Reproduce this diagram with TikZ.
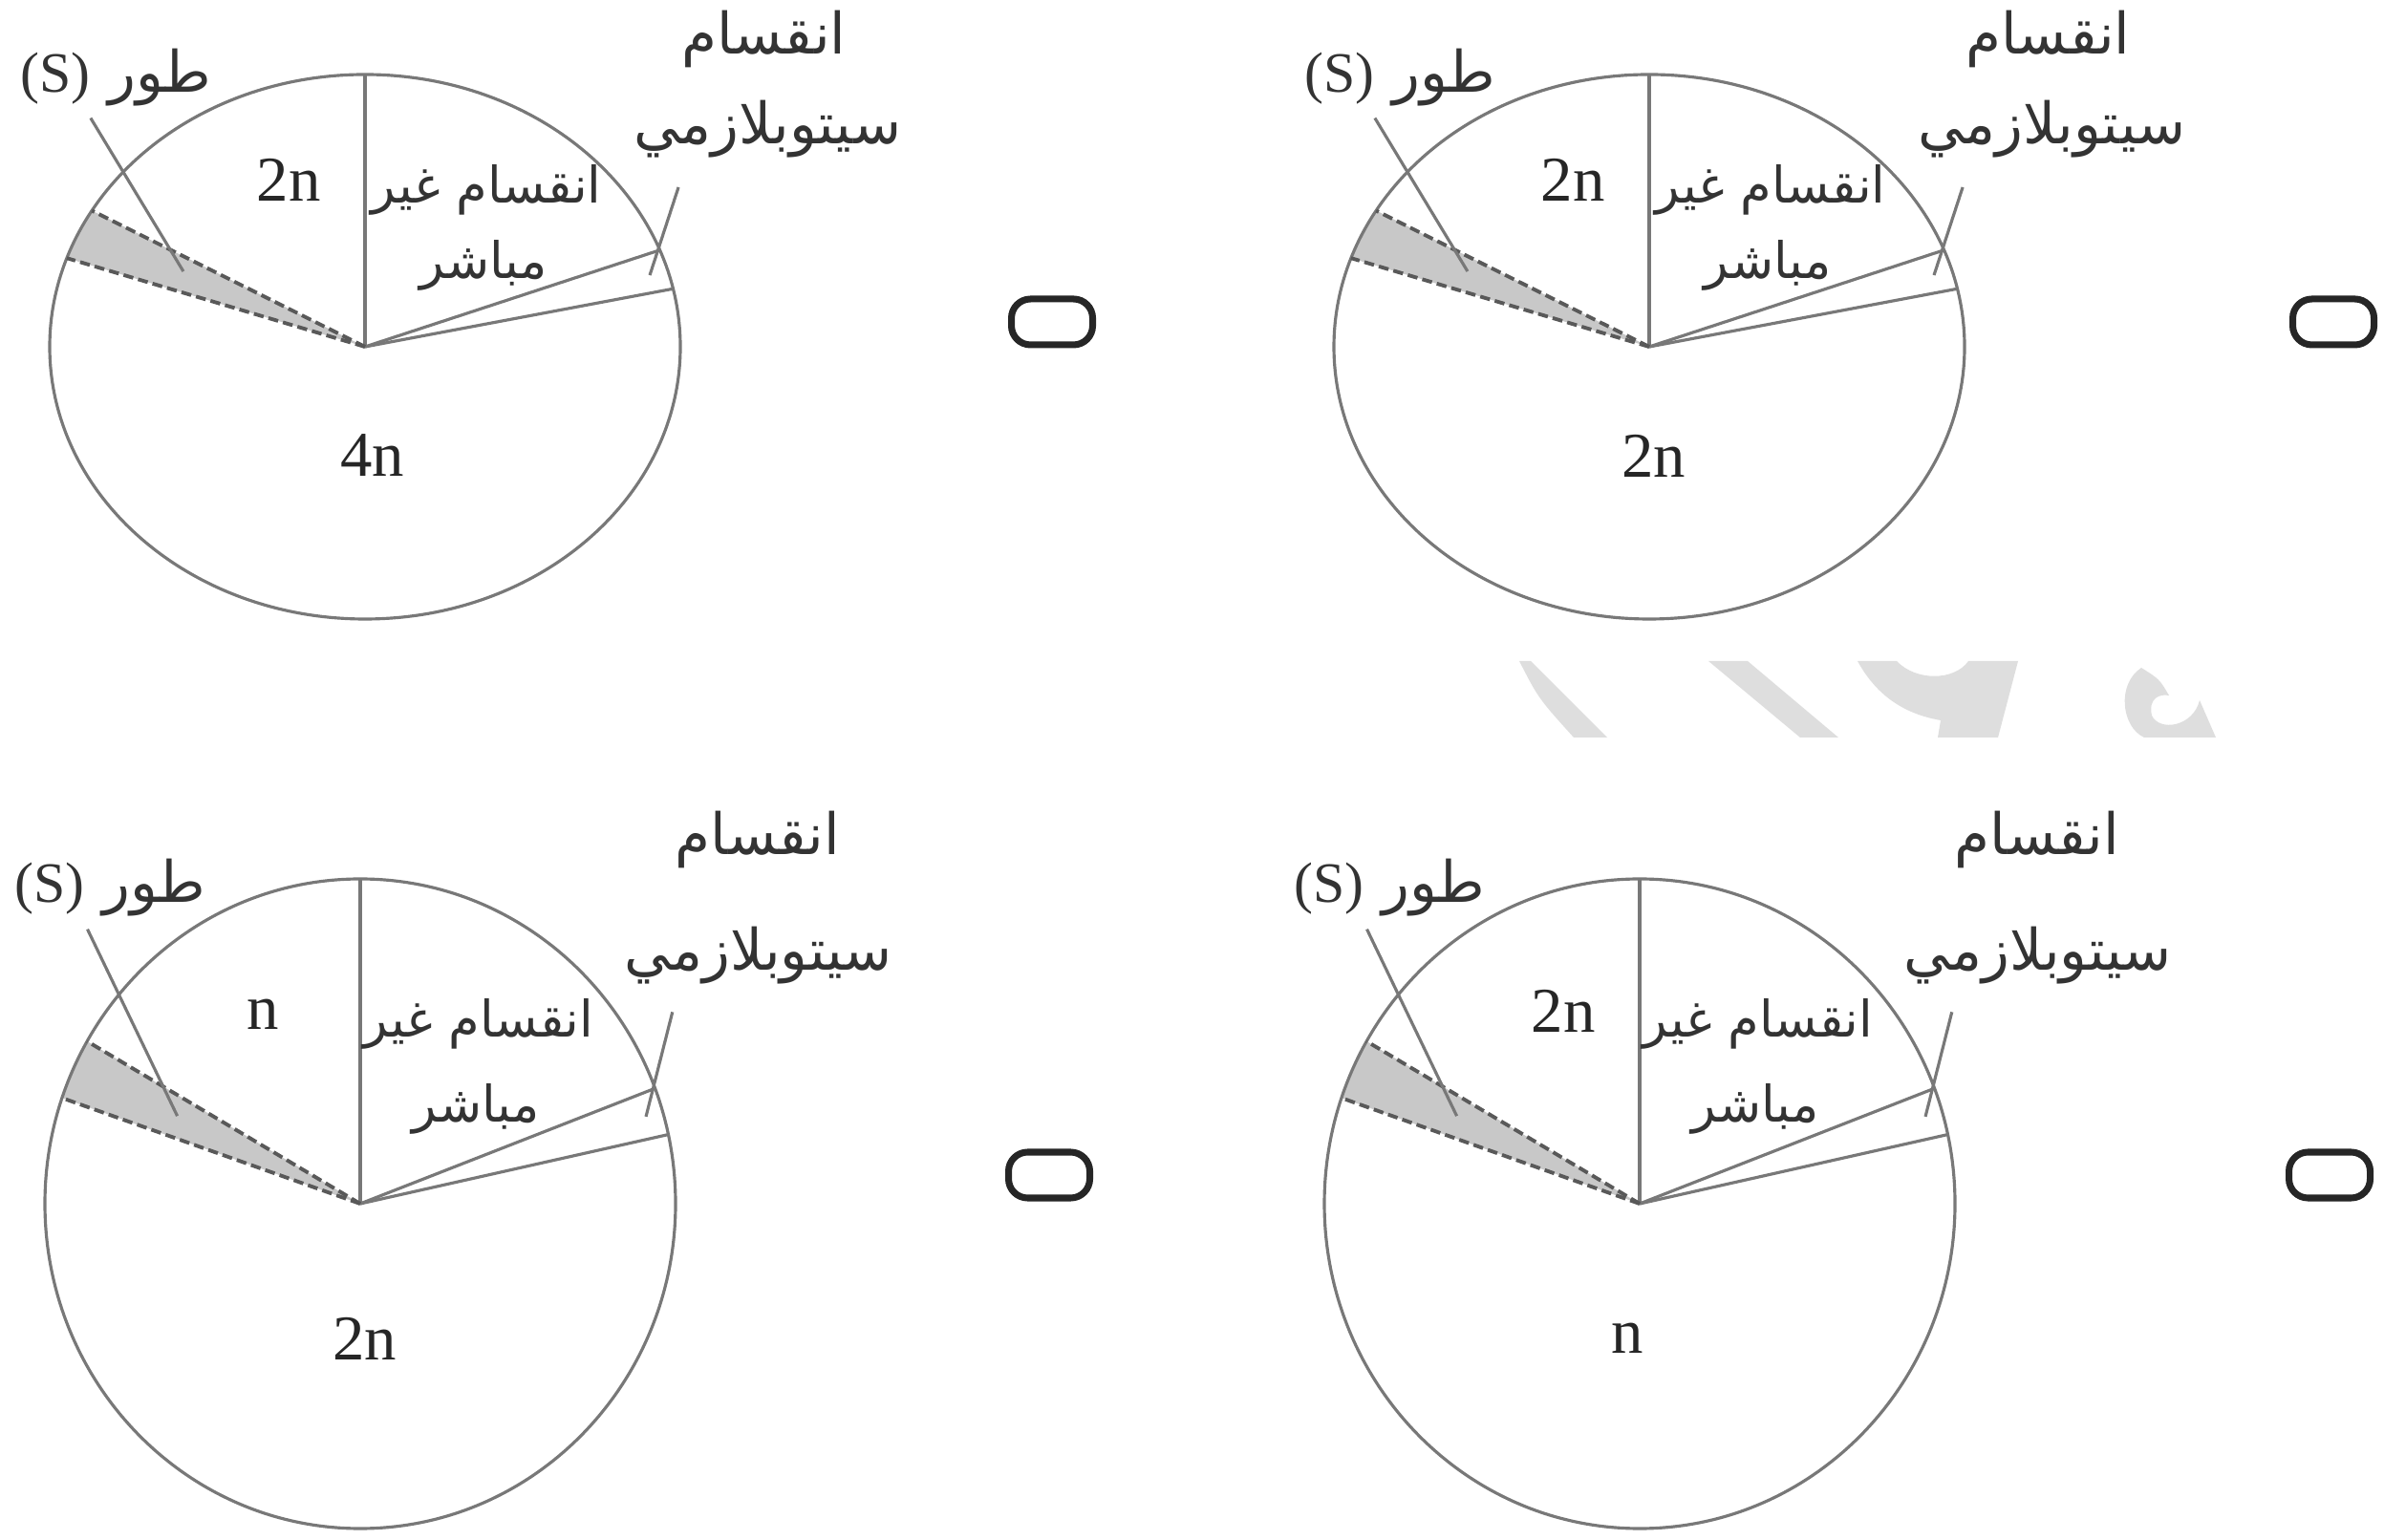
\documentclass[tikz,border=0pt]{standalone}
\usepackage{fontspec}
\setmainfont{Liberation Serif}
\newfontfamily\arabicfont[Script=Arabic]{DejaVu Sans}
\TeXXeTstate=1
\definecolor{pieGray}{RGB}{120,120,120}
\definecolor{wedgeGray}{RGB}{200,200,200}
\definecolor{markGray}{RGB}{222,222,222}
\tikzset{
  pieLine/.style={draw=pieGray, line width=0.9pt},
  sEdge/.style={draw=black!65, line width=1.1pt, dash pattern=on 3pt off 1.5pt},
  pointer/.style={draw=pieGray, line width=0.9pt},
  arSmall/.style={text=black!80, inner sep=0pt, font=\arabicfont\fontsize{15}{18}\selectfont},
  arBig/.style={text=black!80, inner sep=0pt, font=\arabicfont\fontsize{17}{20}\selectfont},
  numLabel/.style={text=black!85, inner sep=0pt, font=\fontsize{19}{22}\selectfont},
  tickBox/.style={draw=black!85, line width=2pt, rounded corners=0.2cm, minimum width=0.85cm, minimum height=0.48cm}
}
\begin{document}
\begin{tikzpicture}
	\useasboundingbox (0,0) rectangle (24.95,16.11);

	% pie 1 (top left)
	\begin{scope}[shift={(3.82,12.48)}, xscale=3.3, yscale=2.85]
		\coordinate (pie1Centre) at (0,0);
		\coordinate (pie1Top) at (90:1);
		\coordinate (pie1CytoA) at (20.8:1);
		\coordinate (pie1CytoB) at (12.3:1);
		\coordinate (pie1SA) at (150:1);
		\coordinate (pie1SB) at (161:1);
		\coordinate (pie1STail) at (-0.87,0.84);
		\coordinate (pie1STip) at (-0.576,0.277);
		\coordinate (pie1CytoTail) at (0.994,0.586);
		\coordinate (pie1CytoTip) at (0.903,0.263);
		\fill[wedgeGray] (pie1Centre) -- (pie1SA) arc (150:161:1) -- cycle;
		\draw[pieLine] (pie1Centre) ellipse (1 and 1);
		\draw[pieLine] (pie1Centre) -- (pie1Top);
		\draw[pieLine] (pie1Centre) -- (pie1CytoA);
		\draw[pieLine] (pie1Centre) -- (pie1CytoB);
		\draw[sEdge] (pie1Centre) -- (pie1SA);
		\draw[sEdge] (pie1Centre) -- (pie1SB);
		\draw[pointer] (pie1STail) -- (pie1STip);
		\draw[pointer] (pie1CytoTail) -- (pie1CytoTip);
		\node[arBig](pie1SLabel) at (-0.79,0.99){\arabicfont\beginR طور \beginL{\rmfamily (S)}\endL\endR};
		\node[arBig](pie1CytoTop) at (1.265,1.13){\beginR انقسام\endR};
		\node[arBig](pie1CytoBot) at (1.276,0.80){\beginR سيتوبلازمي\endR};
		\node[arSmall](pie1MitTop) at (0.385,0.575){\beginR انقسام غير\endR};
		\node[arSmall](pie1MitBot) at (0.376,0.298){\beginR مباشر\endR};
		\node[numLabel](pie1Up) at (-0.242,0.614){2n};
		\node[numLabel](pie1Down) at (0.024,-0.40){4n};
	\end{scope}

	% pie 2 (top right)
	\begin{scope}[shift={(17.26,12.48)}, xscale=3.3, yscale=2.85]
		\coordinate (pie2Centre) at (0,0);
		\coordinate (pie2Top) at (90:1);
		\coordinate (pie2CytoA) at (20.8:1);
		\coordinate (pie2CytoB) at (12.3:1);
		\coordinate (pie2SA) at (150:1);
		\coordinate (pie2SB) at (161:1);
		\coordinate (pie2STail) at (-0.87,0.84);
		\coordinate (pie2STip) at (-0.576,0.277);
		\coordinate (pie2CytoTail) at (0.994,0.586);
		\coordinate (pie2CytoTip) at (0.903,0.263);
		\fill[wedgeGray] (pie2Centre) -- (pie2SA) arc (150:161:1) -- cycle;
		\draw[pieLine] (pie2Centre) ellipse (1 and 1);
		\draw[pieLine] (pie2Centre) -- (pie2Top);
		\draw[pieLine] (pie2Centre) -- (pie2CytoA);
		\draw[pieLine] (pie2Centre) -- (pie2CytoB);
		\draw[sEdge] (pie2Centre) -- (pie2SA);
		\draw[sEdge] (pie2Centre) -- (pie2SB);
		\draw[pointer] (pie2STail) -- (pie2STip);
		\draw[pointer] (pie2CytoTail) -- (pie2CytoTip);
		\node[arBig](pie2SLabel) at (-0.79,0.99){\arabicfont\beginR طور \beginL{\rmfamily (S)}\endL\endR};
		\node[arBig](pie2CytoTop) at (1.265,1.13){\beginR انقسام\endR};
		\node[arBig](pie2CytoBot) at (1.276,0.80){\beginR سيتوبلازمي\endR};
		\node[arSmall](pie2MitTop) at (0.385,0.575){\beginR انقسام غير\endR};
		\node[arSmall](pie2MitBot) at (0.376,0.298){\beginR مباشر\endR};
		\node[numLabel](pie2Up) at (-0.242,0.614){2n};
		\node[numLabel](pie2Down) at (0.015,-0.40){2n};
	\end{scope}

	% pie 3 (bottom left)
	\begin{scope}[shift={(3.77,3.51)}, xscale=3.3, yscale=3.4]
		\coordinate (pie3Centre) at (0,0);
		\coordinate (pie3Top) at (90:1);
		\coordinate (pie3CytoA) at (20.8:1);
		\coordinate (pie3CytoB) at (12.3:1);
		\coordinate (pie3SA) at (150:1);
		\coordinate (pie3SB) at (161:1);
		\coordinate (pie3STail) at (-0.865,0.845);
		\coordinate (pie3STip) at (-0.58,0.27);
		\coordinate (pie3CytoTail) at (0.99,0.59);
		\coordinate (pie3CytoTip) at (0.906,0.268);
		\fill[wedgeGray] (pie3Centre) -- (pie3SA) arc (150:161:1) -- cycle;
		\draw[pieLine] (pie3Centre) ellipse (1 and 1);
		\draw[pieLine] (pie3Centre) -- (pie3Top);
		\draw[pieLine] (pie3Centre) -- (pie3CytoA);
		\draw[pieLine] (pie3Centre) -- (pie3CytoB);
		\draw[sEdge] (pie3Centre) -- (pie3SA);
		\draw[sEdge] (pie3Centre) -- (pie3SB);
		\draw[pointer] (pie3STail) -- (pie3STip);
		\draw[pointer] (pie3CytoTail) -- (pie3CytoTip);
		\node[arBig](pie3SLabel) at (-0.794,0.974){\arabicfont\beginR طور \beginL{\rmfamily (S)}\endL\endR};
		\node[arBig](pie3CytoTop) at (1.26,1.12){\beginR انقسام\endR};
		\node[arBig](pie3CytoBot) at (1.263,0.765){\beginR سيتوبلازمي\endR};
		\node[arSmall](pie3MitTop) at (0.375,0.554){\beginR انقسام غير\endR};
		\node[arSmall](pie3MitBot) at (0.366,0.29){\beginR مباشر\endR};
		\node[numLabel](pie3Up) at (-0.31,0.584){n};
		\node[numLabel](pie3Down) at (0.015,-0.415){2n};
	\end{scope}

	% pie 4 (bottom right)
	\begin{scope}[shift={(17.16,3.51)}, xscale=3.3, yscale=3.4]
		\coordinate (pie4Centre) at (0,0);
		\coordinate (pie4Top) at (90:1);
		\coordinate (pie4CytoA) at (20.8:1);
		\coordinate (pie4CytoB) at (12.3:1);
		\coordinate (pie4SA) at (150:1);
		\coordinate (pie4SB) at (161:1);
		\coordinate (pie4STail) at (-0.865,0.845);
		\coordinate (pie4STip) at (-0.58,0.27);
		\coordinate (pie4CytoTail) at (0.99,0.59);
		\coordinate (pie4CytoTip) at (0.906,0.268);
		\fill[wedgeGray] (pie4Centre) -- (pie4SA) arc (150:161:1) -- cycle;
		\draw[pieLine] (pie4Centre) ellipse (1 and 1);
		\draw[pieLine] (pie4Centre) -- (pie4Top);
		\draw[pieLine] (pie4Centre) -- (pie4CytoA);
		\draw[pieLine] (pie4Centre) -- (pie4CytoB);
		\draw[sEdge] (pie4Centre) -- (pie4SA);
		\draw[sEdge] (pie4Centre) -- (pie4SB);
		\draw[pointer] (pie4STail) -- (pie4STip);
		\draw[pointer] (pie4CytoTail) -- (pie4CytoTip);
		\node[arBig](pie4SLabel) at (-0.794,0.974){\arabicfont\beginR طور \beginL{\rmfamily (S)}\endL\endR};
		\node[arBig](pie4CytoTop) at (1.26,1.12){\beginR انقسام\endR};
		\node[arBig](pie4CytoBot) at (1.263,0.765){\beginR سيتوبلازمي\endR};
		\node[arSmall](pie4MitTop) at (0.375,0.554){\beginR انقسام غير\endR};
		\node[arSmall](pie4MitBot) at (0.366,0.29){\beginR مباشر\endR};
		\node[numLabel](pie4Up) at (-0.242,0.592){2n};
		\node[numLabel](pie4Down) at (-0.04,-0.415){n};
	\end{scope}

	% answer boxes
	\node[tickBox](box1) at (11.01,12.74){};
	\node[tickBox](box2) at (24.42,12.74){};
	\node[tickBox](box3) at (10.98,3.81){};
	\node[tickBox](box4) at (24.38,3.81){};

	% watermark remains
	\fill[markGray] (15.90,9.19) -- (16.02,9.19) -- (16.82,8.39) -- (16.47,8.39) .. controls (16.1,8.8) .. cycle;
	\fill[markGray] (17.88,9.19) -- (18.29,9.19) -- (19.24,8.39) -- (18.84,8.39) -- cycle;
	\fill[markGray] (19.44,9.19) -- (19.85,9.19) .. controls (20.05,8.98) and (20.45,8.98) .. (20.60,9.19) -- (21.12,9.19) -- (20.91,8.39) -- (20.28,8.39) -- (20.31,8.57) .. controls (19.85,8.65) and (19.6,8.9) .. cycle;
	\fill[markGray, even odd rule] (22.41,9.12) .. controls (22.15,8.95) and (22.20,8.50) .. (22.44,8.39) -- (23.19,8.39) -- (23.02,8.78) .. controls (22.95,8.50) and (22.60,8.45) .. (22.52,8.62) .. controls (22.48,8.80) and (22.60,8.85) .. (22.70,8.83) .. controls (22.60,9.00) .. cycle;
\end{tikzpicture}
\end{document}
